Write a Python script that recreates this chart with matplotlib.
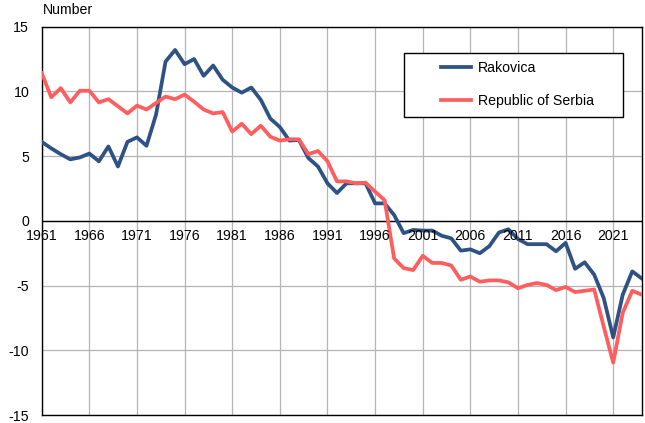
import numpy as np
import matplotlib
matplotlib.use('Agg')
import matplotlib.pyplot as plt
from matplotlib.patches import Rectangle

#======data=========#
years = np.arange(1961, 2025)

rakovica = [6.1, 5.6, 5.15, 4.75, 4.9, 5.2, 4.6, 5.75, 4.2, 6.1,
            6.45, 5.8, 8.2, 12.3, 13.2, 12.1, 12.5, 11.2, 12.0, 10.9,
            10.3, 9.9, 10.3, 9.35, 7.9, 7.25, 6.2, 6.25, 4.85, 4.2,
            2.9, 2.15, 2.9, 2.9, 2.9, 1.35, 1.35, 0.45, -0.95, -0.7,
            -0.75, -0.75, -1.15, -1.35, -2.3, -2.2, -2.5, -1.95, -0.9, -0.65,
            -1.4, -1.8, -1.8, -1.8, -2.35, -1.7, -3.7, -3.2, -4.15, -5.95,
            -9.0, -5.7, -3.9, -4.45]

serbia = [11.4, 9.55, 10.25, 9.15, 10.05, 10.05, 9.15, 9.4, 8.85, 8.3,
          8.9, 8.6, 9.1, 9.6, 9.4, 9.75, 9.2, 8.6, 8.3, 8.4,
          6.9, 7.5, 6.7, 7.35, 6.5, 6.2, 6.3, 6.3, 5.15, 5.4,
          4.6, 3.05, 3.05, 2.9, 2.95, 2.25, 1.6, -2.9, -3.65, -3.8,
          -2.7, -3.25, -3.25, -3.45, -4.55, -4.3, -4.7, -4.6, -4.6, -4.75,
          -5.2, -4.95, -4.8, -4.95, -5.35, -5.1, -5.5, -5.4, -5.3, -8.15,
          -10.95, -7.1, -5.4, -5.7]

xticks = np.arange(1961, 2025, 5)
yticks = [-15, -10, -5, 0, 5, 10, 15]

blue = '#2e5283'
red = '#ff5e5e'
fs = 10.2

plt.rcParams['font.family'] = ['Liberation Sans', 'DejaVu Sans']

fig = plt.figure(figsize=(6.45, 4.23), dpi=100)
ax = fig.add_axes([0.0647, 0.0187, 0.9303, 0.9183])

ax.plot(years, rakovica, color=blue, lw=2.7, label='Rakovica', zorder=3)
ax.plot(years, serbia, color=red, lw=2.7, label='Republic of Serbia', zorder=3)

ax.set_xlim(1961, 2024)
ax.set_ylim(-15, 15)
ax.set_xticks(xticks)
ax.set_yticks(yticks)
ax.set_xticklabels([])
ax.set_yticklabels([str(v) for v in yticks], fontsize=fs)
ax.tick_params(length=0, pad=9)
ax.grid(True, color='#b4b4b4', lw=0.9)
ax.set_axisbelow(True)
ax.axhline(0, color='black', lw=1, zorder=2)
for s in ax.spines.values():
    s.set_color('black')
    s.set_linewidth(1)

# x labels sit just under the zero line
for yr in xticks:
    ax.annotate(str(yr), (yr, 0), xytext=(0, -11), textcoords='offset points',
                ha='center', va='center', fontsize=fs)

fig.text(0.067, 1 - 10 / 423, 'Number', fontsize=fs, va='center', ha='left')

# legend with a wide box
ax.add_patch(Rectangle((404 / 645, 1 - 117.3 / 423), 218.5 / 645, 64.6 / 423,
                       transform=fig.transFigure, facecolor='white',
                       edgecolor='black', lw=1, zorder=4, clip_on=False))
leg = ax.legend(loc='upper left', bbox_to_anchor=(437 / 645, 1 - 57 / 423),
                bbox_transform=fig.transFigure, frameon=False, fontsize=fs,
                handlelength=2.1, handletextpad=0.5, labelspacing=1.3,
                borderpad=0.3, borderaxespad=0)
leg.set_zorder(5)

fig.savefig('out.png', dpi=100)
